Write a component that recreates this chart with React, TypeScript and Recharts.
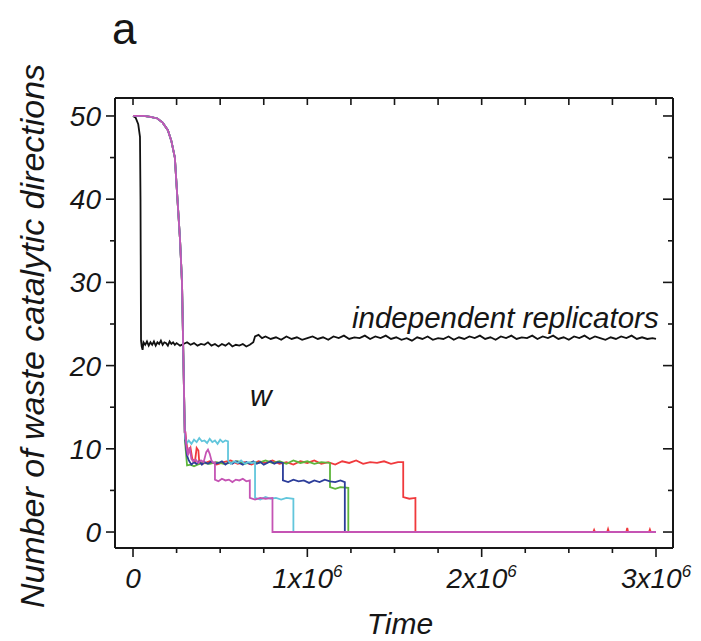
import { Line, LineChart, XAxis, YAxis } from 'recharts';

// time is in units of 10^6
const xTicks = [0, 0.25, 0.5, 0.75, 1, 1.25, 1.5, 1.75, 2, 2.25, 2.5, 2.75, 3];
const xMajor = [0, 1, 2, 3];
const yTicks = [0, 5, 10, 15, 20, 25, 30, 35, 40, 45, 50];
const yMajor = [0, 10, 20, 30, 40, 50];

// shared sigmoid drop of the coupled runs
const coupledHead: [number, number][] = [
  [0, 50], [0.06, 50], [0.1, 49.9], [0.14, 49.7], [0.17, 49.2], [0.2, 48.3], [0.22, 47],
  [0.24, 45], [0.258, 39], [0.27, 35], [0.281, 30], [0.288, 22], [0.297, 12]
];

const cyanTail: [number, number][] = [
  [0.3, 11.2], [0.31, 10.7], [0.32, 11.0], [0.335, 10.6], [0.35, 11.1], [0.365, 10.8], [0.38, 11.3],
  [0.395, 10.9], [0.41, 11.0], [0.425, 10.7], [0.44, 11.2], [0.455, 10.8], [0.47, 11.0], [0.485, 10.6],
  [0.5, 11.1], [0.515, 10.8], [0.53, 11.0], [0.545, 10.9], [0.545, 8.6], [0.56, 8.2], [0.58, 8.5],
  [0.6, 8.3], [0.62, 8.6], [0.64, 8.2], [0.66, 8.4], [0.68, 8.3], [0.7, 8.4], [0.7, 4.1], [0.73, 3.9],
  [0.76, 4.2], [0.79, 4.0], [0.82, 4.1], [0.85, 3.9], [0.88, 4.1], [0.92, 4.0], [0.92, 0], [3.0, 0]
];

const magentaTail: [number, number][] = [
  [0.3, 12], [0.305, 10.5], [0.315, 9.2], [0.325, 10.2], [0.335, 8.8], [0.345, 8.5], [0.36, 8.7],
  [0.375, 8.3], [0.39, 8.6], [0.405, 8.4], [0.42, 9.6], [0.43, 9.9], [0.44, 9.4], [0.45, 8.6],
  [0.46, 8.3], [0.47, 8.4], [0.47, 6.3], [0.49, 6.1], [0.51, 6.4], [0.53, 6.2], [0.55, 6.3],
  [0.57, 6.0], [0.59, 6.3], [0.61, 6.2], [0.63, 6.4], [0.65, 6.1], [0.67, 6.2], [0.67, 4.1],
  [0.7, 3.9], [0.73, 4.1], [0.76, 4.0], [0.8, 4.1], [0.8, 0], [3.0, 0]
];

const blueTail: [number, number][] = [
  [0.3, 11], [0.31, 9.2], [0.32, 8.6], [0.335, 8.1], [0.35, 8.4], [0.365, 8.2], [0.38, 8.5],
  [0.395, 8.1], [0.41, 8.4], [0.43, 8.2], [0.45, 8.5], [0.47, 8.2], [0.49, 8.3], [0.51, 8.5],
  [0.53, 8.1], [0.55, 8.4], [0.57, 8.2], [0.59, 8.5], [0.61, 8.3], [0.63, 8.1], [0.65, 8.4],
  [0.67, 8.2], [0.69, 8.5], [0.71, 8.2], [0.73, 8.4], [0.75, 8.1], [0.77, 8.3], [0.79, 8.5],
  [0.81, 8.2], [0.83, 8.4], [0.86, 8.3], [0.86, 6.2], [0.89, 6.0], [0.92, 6.3], [0.95, 6.1],
  [0.98, 6.2], [1.01, 5.9], [1.04, 6.2], [1.07, 6.0], [1.1, 6.3], [1.13, 6.1], [1.16, 6.0],
  [1.19, 6.2], [1.215, 6.0], [1.215, 0], [3.0, 0]
];

const greenTail: [number, number][] = [
  [0.3, 10.5], [0.31, 8.0], [0.33, 8.1], [0.35, 7.9], [0.37, 8.1], [0.4, 8.3], [0.44, 8.2],
  [0.48, 8.4], [0.52, 8.2], [0.56, 8.3], [0.6, 8.5], [0.64, 8.2], [0.68, 8.4], [0.72, 8.3],
  [0.76, 8.6], [0.8, 8.3], [0.84, 8.5], [0.88, 8.2], [0.92, 8.6], [0.96, 8.3], [1.0, 8.5],
  [1.04, 8.2], [1.08, 8.4], [1.13, 8.3], [1.13, 5.4], [1.16, 5.2], [1.19, 5.4], [1.235, 5.3],
  [1.235, 0], [3.0, 0]
];

const redTail: [number, number][] = [
  [0.3, 12], [0.31, 10.2], [0.32, 9.6], [0.33, 10.1], [0.34, 8.8], [0.355, 8.4], [0.365, 10.1],
  [0.375, 9.8], [0.38, 8.4], [0.4, 8.2], [0.44, 8.5], [0.48, 8.1], [0.52, 8.4], [0.56, 8.6],
  [0.6, 8.2], [0.64, 8.4], [0.68, 8.1], [0.72, 8.5], [0.76, 8.3], [0.8, 8.6], [0.84, 8.2],
  [0.88, 8.4], [0.92, 8.1], [0.96, 8.5], [1.0, 8.3], [1.04, 8.6], [1.08, 8.2], [1.12, 8.4],
  [1.16, 8.1], [1.2, 8.5], [1.24, 8.3], [1.28, 8.6], [1.32, 8.2], [1.36, 8.4], [1.4, 8.3],
  [1.44, 8.5], [1.48, 8.2], [1.52, 8.4], [1.55, 8.4], [1.55, 4.2], [1.585, 4.0], [1.62, 4.1],
  [1.62, 0], [2.64, 0], [2.645, 0.25], [2.65, 0], [2.72, 0], [2.725, 0.35], [2.73, 0], [2.83, 0],
  [2.835, 0.5], [2.84, 0], [2.96, 0], [2.965, 0.3], [2.97, 0], [2.98, 0]
];

const independent: [number, number][] = [
  [0, 50], [0.015, 49.8], [0.03, 49], [0.04, 47.5], [0.043, 40], [0.046, 23], [0.05, 22.3],
  [0.055, 21.9], [0.06, 22.8], [0.07, 22.5], [0.08, 22.9], [0.09, 22.4], [0.1, 22.8], [0.11, 22.5],
  [0.12, 22.9], [0.13, 22.4], [0.14, 22.8], [0.15, 22.6], [0.16, 23.0], [0.17, 22.5], [0.18, 22.8],
  [0.19, 22.7], [0.2, 22.4], [0.21, 22.9], [0.22, 22.6], [0.23, 22.8], [0.24, 22.5], [0.25, 22.7],
  [0.27, 22.4], [0.29, 22.6], [0.31, 22.8], [0.33, 22.5], [0.35, 22.7], [0.37, 22.4], [0.39, 22.6],
  [0.41, 22.5], [0.43, 22.8], [0.45, 22.4], [0.47, 22.6], [0.49, 22.3], [0.51, 22.6], [0.53, 22.4],
  [0.55, 22.7], [0.57, 22.3], [0.59, 22.5], [0.61, 22.4], [0.63, 22.6], [0.65, 22.3], [0.67, 22.5],
  [0.69, 22.8], [0.7, 23.5], [0.72, 23.7], [0.74, 23.3], [0.76, 23.5], [0.79, 23.2], [0.82, 23.4],
  [0.85, 23.1], [0.88, 23.5], [0.91, 23.2], [0.94, 23.4], [0.97, 23.1], [1.0, 23.3], [1.03, 23.5],
  [1.06, 23.2], [1.09, 23.4], [1.12, 23.1], [1.15, 23.5], [1.18, 23.3], [1.21, 23.6], [1.24, 23.2],
  [1.27, 23.4], [1.3, 23.3], [1.33, 23.6], [1.36, 23.2], [1.39, 23.5], [1.42, 23.3], [1.45, 23.6],
  [1.48, 23.2], [1.51, 23.4], [1.54, 23.1], [1.57, 23.3], [1.6, 23.0], [1.63, 23.4], [1.66, 23.2],
  [1.69, 23.5], [1.72, 23.1], [1.75, 23.3], [1.78, 23.2], [1.81, 23.5], [1.84, 23.1], [1.87, 23.4],
  [1.9, 23.2], [1.93, 23.5], [1.96, 23.3], [1.99, 23.6], [2.02, 23.2], [2.05, 23.4], [2.08, 23.1],
  [2.11, 23.5], [2.14, 23.3], [2.17, 23.6], [2.2, 23.2], [2.23, 23.4], [2.26, 23.3], [2.29, 23.6],
  [2.32, 23.2], [2.35, 23.5], [2.38, 23.3], [2.41, 23.6], [2.44, 23.2], [2.47, 23.4], [2.5, 23.1],
  [2.53, 23.5], [2.56, 23.3], [2.59, 23.6], [2.62, 23.2], [2.65, 23.5], [2.68, 23.3], [2.71, 23.1],
  [2.74, 23.4], [2.77, 23.2], [2.8, 23.5], [2.83, 23.3], [2.86, 23.6], [2.89, 23.2], [2.92, 23.4],
  [2.95, 23.2], [2.98, 23.3], [3.0, 23.2]
];

const series = [
  { name: 'independent', color: '#111111', points: independent },
  { name: 'red', color: '#f0393c', points: [...coupledHead, ...redTail] },
  { name: 'green', color: '#5db53c', points: [...coupledHead, ...greenTail] },
  { name: 'blue', color: '#2c3d9a', points: [...coupledHead, ...blueTail] },
  { name: 'cyan', color: '#62c6dc', points: [...coupledHead, ...cyanTail] },
  { name: 'magenta', color: '#c554b4', points: [...coupledHead, ...magentaTail] }
];

const FONT = '"Liberation Sans", Arial, Helvetica, sans-serif';
const INK = '#161616';
const X_DOMAIN = [-0.1033, 3.0975];
const Y_DOMAIN = [-1.92, 52.16];

const toRows = (pts: [number, number][]) => pts.map(([t, v]) => ({ t, v }));

function BottomTick({ x, y, payload }: any) {
  const v = payload.value;
  const major = xMajor.includes(v);
  return (
    <g>
      <line x1={x} x2={x} y1={y} y2={y + (major ? 9 : 5)} stroke={INK} strokeWidth={1.6} />
      {major && (
        <text x={x} y={y + 40} textAnchor="middle" fontFamily={FONT} fontStyle="italic" fontSize={28} fill={INK}>
          {v === 0 ? '0' : (
            <>
              <tspan>{`${v}x10`}</tspan>
              <tspan dy={-11} fontSize={17}>6</tspan>
            </>
          )}
        </text>
      )}
    </g>
  );
}

function TopTick({ x, y }: any) {
  return <line x1={x} x2={x} y1={y} y2={y + 7} stroke={INK} strokeWidth={1.6} />;
}

function LeftTick({ x, y, payload }: any) {
  const major = yMajor.includes(payload.value);
  return (
    <g>
      <line x1={x} x2={x - (major ? 9 : 5)} y1={y} y2={y} stroke={INK} strokeWidth={1.6} />
      {major && (
        <text x={x - 14} y={y + 10} textAnchor="end" fontFamily={FONT} fontStyle="italic" fontSize={28} fill={INK}>
          {payload.value}
        </text>
      )}
    </g>
  );
}

function RightTick({ x, y, payload }: any) {
  const major = yMajor.includes(payload.value);
  return <line x1={x} x2={x - (major ? 10 : 5)} y1={y} y2={y} stroke={INK} strokeWidth={1.6} />;
}

export default function App() {
  const axisLine = { stroke: INK, strokeWidth: 2 };
  return (
    <div style={{ position: 'absolute', left: 0, top: 0, width: 701, height: 641, background: '#fff' }}>
      <LineChart width={701} height={641} margin={{ top: 0, right: 0, bottom: 0, left: 0 }}>
        <XAxis
          dataKey="t" type="number" domain={X_DOMAIN} allowDataOverflow ticks={xTicks} interval={0}
          height={93} tickSize={0} tickMargin={0} tickLine={false} axisLine={axisLine} tick={BottomTick}
        />
        <XAxis
          xAxisId="top" orientation="top" dataKey="t" type="number" domain={X_DOMAIN} allowDataOverflow
          ticks={xTicks} interval={0} height={98} tickSize={0} tickMargin={0} tickLine={false}
          axisLine={axisLine} tick={TopTick}
        />
        <YAxis
          dataKey="v" type="number" domain={Y_DOMAIN} allowDataOverflow ticks={yTicks} interval={0}
          width={115} tickSize={0} tickMargin={0} tickLine={false} axisLine={axisLine} tick={LeftTick}
        />
        <YAxis
          yAxisId="right" orientation="right" type="number" domain={Y_DOMAIN} allowDataOverflow
          ticks={yTicks} interval={0} width={28} tickSize={0} tickMargin={0} tickLine={false}
          axisLine={axisLine} tick={RightTick}
        />
        {series.map((s) => (
          <Line
            key={s.name}
            data={toRows(s.points)}
            dataKey="v"
            type="linear"
            stroke={s.color}
            strokeWidth={1.8}
            dot={false}
            isAnimationActive={false}
          />
        ))}
      </LineChart>
      <svg width={701} height={641} style={{ position: 'absolute', left: 0, top: 0, pointerEvents: 'none' }}>
        <text x={112} y={44} fontFamily={FONT} fontSize={44} fill={INK}>a</text>
        <text
          transform="translate(44,336) rotate(-90)" textAnchor="middle" fontFamily={FONT}
          fontStyle="italic" fontSize={34} fill={INK}
        >
          Number of waste catalytic directions
        </text>
        <text x={400} y={634} textAnchor="middle" fontFamily={FONT} fontStyle="italic" fontSize={30} fill={INK}>
          Time
        </text>
        <text x={352} y={328} fontFamily={FONT} fontStyle="italic" fontSize={29.5} fill={INK}>
          independent replicators
        </text>
        <text x={250} y={406} fontFamily={FONT} fontStyle="italic" fontSize={30} fill={INK}>w</text>
      </svg>
    </div>
  );
}
